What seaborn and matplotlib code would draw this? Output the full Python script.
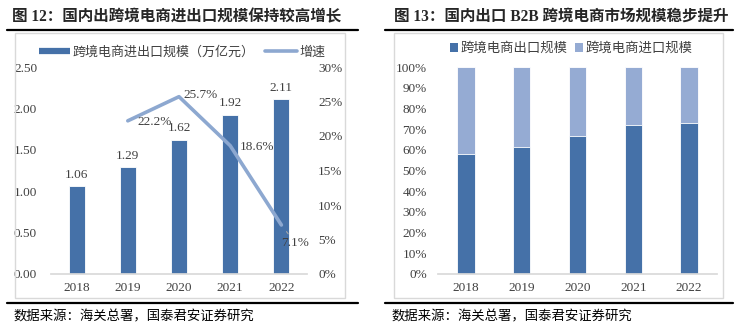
import matplotlib
matplotlib.use("Agg")
import matplotlib.pyplot as plt
import seaborn as sns
import pandas as pd
from matplotlib.lines import Line2D
from matplotlib.patches import Rectangle, Patch
from matplotlib.ticker import FuncFormatter

# ---------------- data ----------------
years = ["2018", "2019", "2020", "2021", "2022"]
scale = [1.06, 1.29, 1.62, 1.92, 2.11]          # 跨境电商进出口规模（万亿元）
growth_years = ["2019", "2020", "2021", "2022"]
growth = [22.2, 25.7, 18.6, 7.1]                 # 增速 %
export_share = [58.0, 61.5, 66.8, 72.1, 73.1]    # 跨境电商出口规模 %
import_share = [42.0, 38.5, 33.2, 27.9, 26.9]    # 跨境电商进口规模 %

title1 = "图 12：国内出跨境电商进出口规模保持较高增长"
title2 = "图 13：国内出口 B2B 跨境电商市场规模稳步提升"
source = "数据来源：海关总署，国泰君安证券研究"
leg1_bar = "跨境电商进出口规模（万亿元）"
leg1_line = "增速"
leg2_a = "跨境电商出口规模"
leg2_b = "跨境电商进口规模"

DARK = "#4571A8"
LIGHT = "#95ABD3"
LINE = "#8DA8D0"
AXC = "#D9D9D9"
TXT = "#404040"

sns.set_theme(style="white")
plt.rcParams["font.family"] = ["Liberation Serif", "Noto Sans CJK SC", "DejaVu Sans"]
CJK = ["Noto Sans CJK SC", "DejaVu Sans"]
SER = ["Liberation Serif", "Noto Sans CJK SC"]

W, H = 748, 326
fig = plt.figure(figsize=(W / 100, H / 100), dpi=100)
fig.patch.set_facecolor("white")

def fx(x): return x / W
def fy(y): return 1 - y / H

# frames, rules, titles, sources
for (x0, x1) in [(15, 345), (394, 723)]:
    fig.add_artist(Rectangle((fx(x0), fy(298)), fx(x1) - fx(x0), fy(33) - fy(298),
                             transform=fig.transFigure, fill=False, edgecolor=AXC, lw=1))
for (x0, x1) in [(7, 358), (385, 733)]:
    for yy in (30, 303):
        fig.add_artist(Line2D([fx(x0), fx(x1)], [fy(yy), fy(yy)], transform=fig.transFigure,
                              color="black", lw=1.6))
fig.text(fx(12), fy(17), title1, family=SER, fontsize=11.2, fontweight="bold", va="center", ha="left")
fig.text(fx(394), fy(17), title2, family=SER, fontsize=11.2, fontweight="bold", va="center", ha="left")
fig.text(fx(14), fy(316), source, family=CJK, fontsize=9.6, va="center", ha="left", color="black")
fig.text(fx(392), fy(316), source, family=CJK, fontsize=9.6, va="center", ha="left", color="black")

# ---------------- left chart ----------------
ax1 = fig.add_axes([fx(51), fy(274), fx(307) - fx(51), fy(67) - fy(274)])
df1 = pd.DataFrame({"year": years, "scale": scale})
sns.barplot(data=df1, x="year", y="scale", order=years, color=DARK, width=0.31,
            saturation=1, ax=ax1, edgecolor="white", linewidth=0.6)
ax1.set_ylim(0, 2.5)
ax1.set_yticks([0, 0.5, 1.0, 1.5, 2.0, 2.5])
ax1.yaxis.set_major_formatter(FuncFormatter(lambda v, p: f"{v:.2f}"))
for c in ax1.containers:
    ax1.bar_label(c, labels=[f"{v:.2f}" for v in scale], padding=4, fontsize=9.5, color=TXT)
ax1.set_xlabel("")
ax1.set_ylabel("")
ax1.tick_params(axis="y", length=0, pad=10, labelsize=9.5, labelcolor=TXT)
ax1.tick_params(axis="x", length=0, pad=6, labelsize=9.5, labelcolor=TXT)
for s in ["top", "left", "right"]:
    ax1.spines[s].set_visible(False)
ax1.spines["bottom"].set_color(AXC)
ax1.set_facecolor("none")

ax2 = ax1.twinx()
gx = [years.index(y) for y in growth_years]
df2 = pd.DataFrame({"x": gx, "g": growth})
sns.lineplot(data=df2, x="x", y="g", color=LINE, lw=2.6, ax=ax2)
ax2.set_ylim(0, 30)
ax2.set_yticks([0, 5, 10, 15, 20, 25, 30])
ax2.yaxis.set_major_formatter(FuncFormatter(lambda v, p: f"{v:.0f}%"))
ax2.tick_params(axis="y", length=0, pad=8, labelsize=9.5, labelcolor=TXT)
ax2.set_ylabel("")
ax2.set_xlabel("")
for s in ["top", "left", "right", "bottom"]:
    ax2.spines[s].set_visible(False)
ax1.set_xlim(-0.5, 4.5)
label_offsets = [(7, -1), (3, 1), (7, -1), (10, -13)]
for i, (x, g) in enumerate(zip(gx, growth)):
    dx, dy = label_offsets[i]
    if i < 3:
        ax2.annotate(f"{g:.1f}%", (x, g), xytext=(dx, dy), textcoords="offset points",
                     ha="left", va="center", fontsize=9.5, color=TXT)
    else:
        ax2.annotate(f"{g:.1f}%", (x, g), xytext=(dx, dy), textcoords="offset points",
                     ha="center", va="center", fontsize=9.5, color=TXT,
                     arrowprops=dict(arrowstyle="-", color="#A6A6A6", lw=0.8,
                                     shrinkA=0, shrinkB=6))

h1 = Line2D([], [], color=DARK, lw=4.5, solid_capstyle="butt")
h2 = Line2D([], [], color=LINE, lw=2.6)
fig.legend([h1, h2], [leg1_bar, leg1_line], loc="center", bbox_to_anchor=(fx(182), fy(52)),
           ncol=2, frameon=False, prop={"family": CJK, "size": 9.4}, handlelength=2.4,
           columnspacing=0.8, handletextpad=0.2, labelcolor=TXT)

# ---------------- right chart ----------------
ax3 = fig.add_axes([fx(438), fy(274), fx(717) - fx(438), fy(67) - fy(274)])
total = [a + b for a, b in zip(export_share, import_share)]
df3 = pd.DataFrame({"year": years, "total": total, "export": export_share})
sns.barplot(data=df3, x="year", y="total", order=years, color=LIGHT, width=0.31,
            saturation=1, ax=ax3, edgecolor="white", linewidth=0.6)
sns.barplot(data=df3, x="year", y="export", order=years, color=DARK, width=0.31,
            saturation=1, ax=ax3, edgecolor="white", linewidth=0.6)
ax3.set_ylim(0, 100)
ax3.set_yticks(range(0, 101, 10))
ax3.yaxis.set_major_formatter(FuncFormatter(lambda v, p: f"{v:.0f}%"))
ax3.set_xlabel("")
ax3.set_ylabel("")
ax3.tick_params(axis="y", length=0, pad=8, labelsize=9.5, labelcolor=TXT)
ax3.tick_params(axis="x", length=0, pad=6, labelsize=9.5, labelcolor=TXT)
for s in ["top", "left", "right"]:
    ax3.spines[s].set_visible(False)
ax3.spines["bottom"].set_color(AXC)
ax3.set_facecolor("none")

p1 = Patch(facecolor=DARK, edgecolor="none")
p2 = Patch(facecolor=LIGHT, edgecolor="none")
fig.legend([p1, p2], [leg2_a, leg2_b], loc="center", bbox_to_anchor=(fx(571), fy(48)),
           ncol=2, frameon=False, prop={"family": CJK, "size": 9.6}, handlelength=0.6,
           handleheight=0.6, columnspacing=0.6, handletextpad=0.15, labelcolor=TXT)

fig.savefig("out.png", dpi=100, facecolor="white")
